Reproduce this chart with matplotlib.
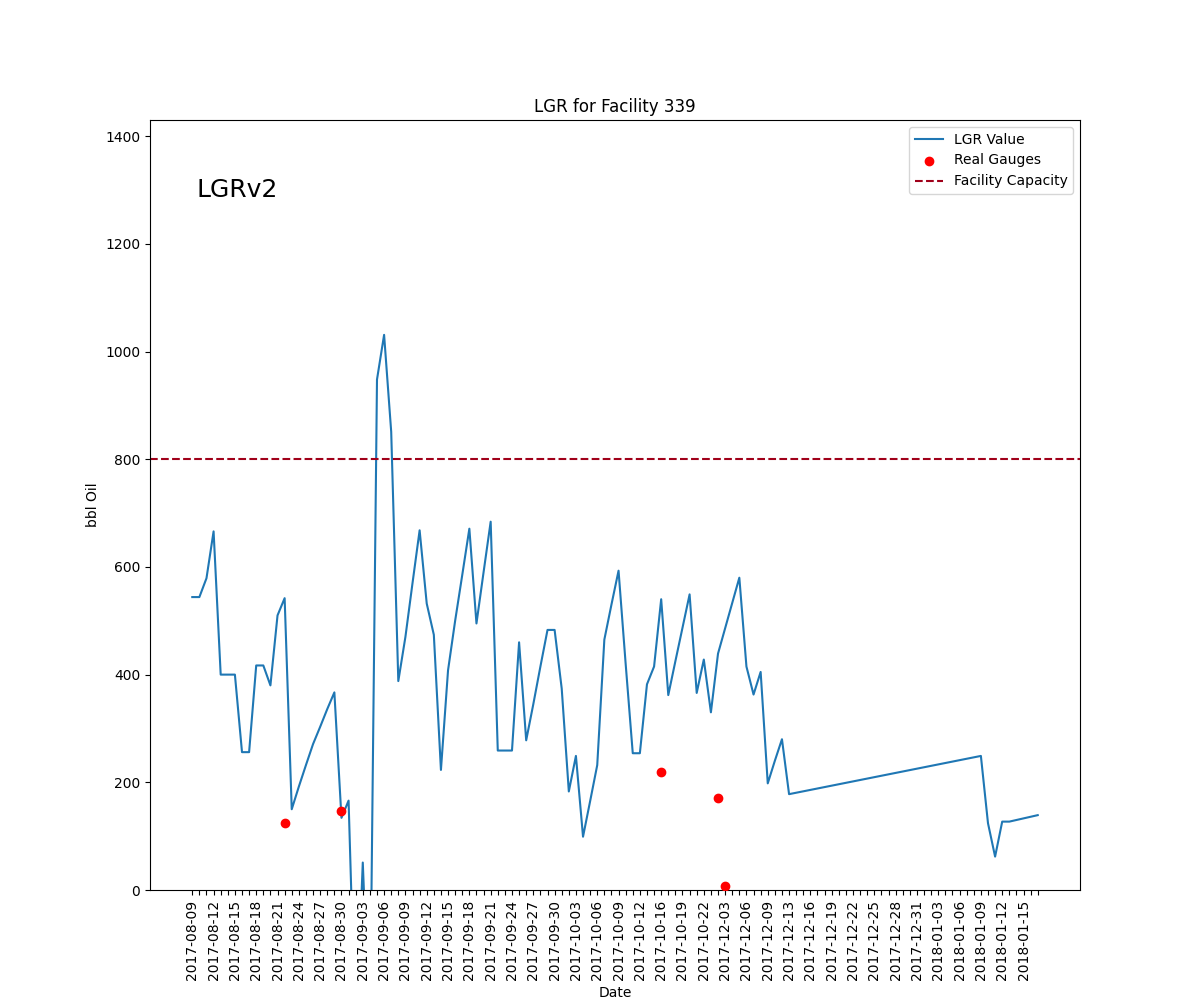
import pandas as pd
import matplotlib.pyplot as plt

# all dates on the x axis (categorical, not evenly spaced in time)
all_dates = [d.strftime("%Y-%m-%d") for d in pd.concat([
    pd.Series(pd.date_range("2017-08-09", "2017-09-01")),
    pd.Series(pd.date_range("2017-09-03", "2017-10-13")),
    pd.Series(pd.date_range("2017-10-15", "2017-10-23")),
    pd.Series(pd.to_datetime(["2017-12-02"])),
    pd.Series(pd.date_range("2017-12-03", "2017-12-11")),
    pd.Series(pd.date_range("2017-12-13", "2018-01-17")),
])]

lgr_idx = list(range(0, 75)) + [77, 78, 79, 80, 81, 82, 83, 84, 111, 112, 113, 114, 115, 119]
lgr_values = [544, 544, 579, 666, 400, 400, 400, 256, 256, 417, 417, 380, 510, 542, 150,
              192, 232, 271, 303, 336, 367, 134, 166, -280, 51, -280, 948, 1031, 851, 388,
              470, 570, 668, 532, 474, 223, 408, 500, 585, 671, 495, 590, 684, 259, 259,
              259, 460, 278, 345, 415, 483, 483, 374, 183, 249, 99, 165, 232, 465, 530,
              593, 420, 254, 254, 382, 415, 540, 362, 425, 487, 549, 366, 428, 330, 439,
              580, 415, 363, 405, 198, 240, 280, 178, 249, 124, 62, 127, 127, 139]
lgr_dates = [all_dates[i] for i in lgr_idx]

gauge_dates = ["2017-08-22", "2017-08-30", "2017-10-16", "2017-12-02", "2017-12-03"]
gauge_values = [125, 146, 220, 170, 7]

capacity = 800

pos = {d: i for i, d in enumerate(all_dates)}

fig, ax = plt.subplots(figsize=(12, 10), dpi=100)
ax.plot([pos[d] for d in lgr_dates], lgr_values, label="LGR Value")
ax.scatter([pos[d] for d in gauge_dates], gauge_values, color="red", zorder=3, label="Real Gauges")
ax.axhline(capacity, color="#a0001a", linestyle="--", label="Facility Capacity")

ax.set_xlim(-5.95, len(all_dates) - 1 + 5.95)
ax.set_ylim(0, 1430)
ax.set_xticks(range(len(all_dates)))
ax.set_xticklabels([d if i % 3 == 0 else "" for i, d in enumerate(all_dates)], rotation=90)
ax.set_title("LGR for Facility 339")
ax.set_xlabel("Date")
ax.set_ylabel("bbl Oil")
ax.text(0.05, 0.9, "LGRv2", transform=ax.transAxes, fontsize=18)
ax.legend(loc="upper right")

plt.savefig("out.png")
